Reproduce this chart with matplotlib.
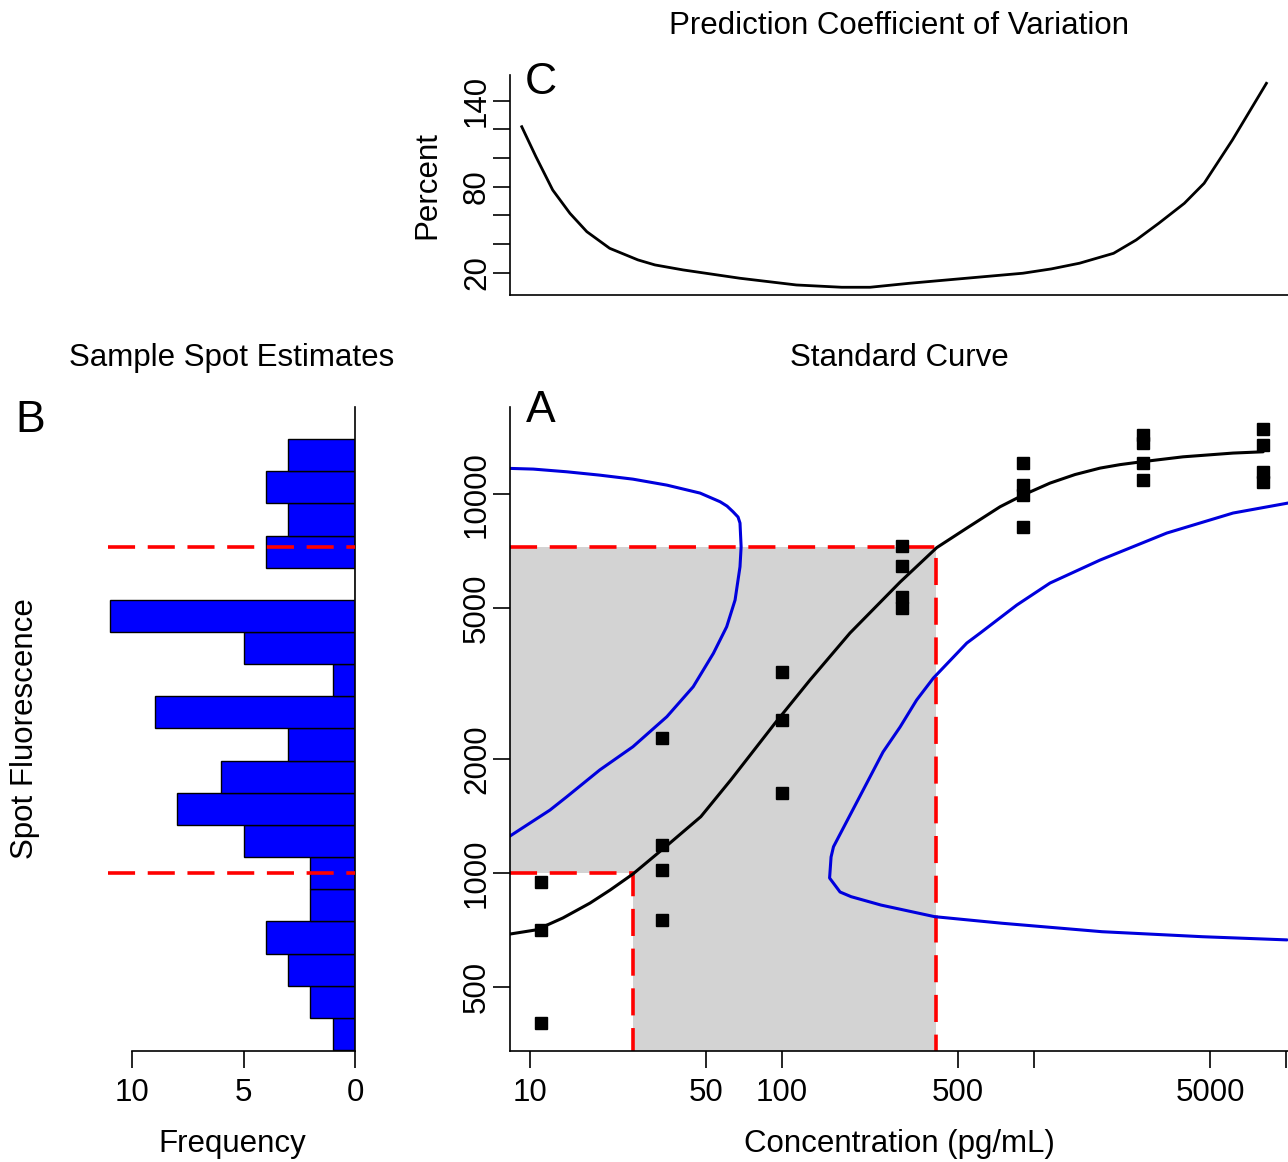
import numpy as np
import matplotlib
matplotlib.use('Agg')
import matplotlib.pyplot as plt

plt.rcParams['font.family'] = ['Liberation Sans', 'DejaVu Sans']
fs = 22.5

# standard points (concentration pg/mL, spot fluorescence)
std_conc = [11.1, 11.1, 11.1, 33.3, 33.3, 33.3, 33.3, 100, 100, 100,
            300, 300, 300, 300, 900, 900, 900, 900,
            2700, 2700, 2700, 2700, 8100, 8100, 8100, 8100]
std_fluor = [947, 708, 402, 2270, 1186, 1018, 752, 3390, 2535, 1626,
             7294, 6457, 5349, 5002, 12070, 10560, 9940, 8185,
             14320, 13640, 12070, 10890, 14850, 13460, 11430, 10750]

# fitted standard curve
fit_conc = [8.31, 10.6, 13.5, 17.3, 20.8, 25.6, 34.5, 47.6, 62.6, 93.9, 129, 186, 294, 411,
            541, 733, 904, 1157, 1454, 1828, 2194, 2675, 3899, 6160, 8110]
fit_fluor = [690, 708, 761, 833, 902, 994, 1173, 1408, 1760, 2488, 3229, 4298, 5857, 7222,
             8133, 9258, 9940, 10690, 11260, 11710, 11960, 12170, 12540, 12830, 12930]

# prediction interval bounds (blue)
lo_conc = [8.27, 10.3, 14.0, 18.9, 25.6, 34.9, 47.3, 56.8, 60.5, 63.9, 66.9, 68.1, 68.8, 68.1,
           65.1, 60.3, 53.4, 44.4, 34.9, 25.6, 18.9, 14.0, 12.0, 8.25]
lo_fluor = [11690, 11640, 11450, 11220, 10950, 10560, 10060, 9544, 9296, 8982, 8697, 8385, 7261, 6431,
            5253, 4466, 3799, 3101, 2585, 2154, 1870, 1590, 1466, 1247]
hi_conc = [10190, 6162, 3362, 1828, 1157, 854, 611, 541, 398.5, 342, 294, 251.6, 217, 188,
           160, 156.5, 154.4, 169.9, 188, 247, 403, 745, 1861, 4663, 10090]
hi_fluor = [9470, 8912, 7891, 6697, 5824, 5095, 4297, 4045, 3269, 2861, 2428, 2086, 1728, 1440,
            1173, 1102, 970, 891, 866, 823, 767, 737, 700, 679, 666]

# limits of quantification
lloq_conc, lloq_fl = 25.6, 1000
uloq_conc, uloq_fl = 410, 7250

# coefficient of variation curve
cv_conc = [9.27, 10.55, 12.3, 14.4, 16.8, 20.7, 26.8, 31.3, 40.5, 68.0, 114, 172.6, 223.5,
           320.8, 538.6, 903.4, 1170, 1516, 2068, 2542, 3127, 3948, 4731, 6124, 8358]
cv_pct = [121.9, 101, 77.7, 61.4, 48.6, 37.0, 28.9, 25.4, 21.9, 16.1, 11.4, 9.8, 9.8,
          12.6, 16.1, 19.6, 22.6, 26.6, 33.5, 42.8, 54.5, 68.4, 82.4, 112.6, 152.2]

# histogram of sample spots (bottom bin to top bin)
hist_counts = [1, 2, 3, 4, 2, 2, 5, 8, 6, 3, 9, 1, 5, 11, 0, 4, 3, 4, 3]
hist_lo, hist_hi = 341, 13970

xlim = (8.33, 10180)
ylim = (339, 16970)

fig = plt.figure(figsize=(12.88, 11.62), dpi=100)
axA = fig.add_axes([0.3960, 0.0955, 0.6040, 0.5542])
axB = fig.add_axes([0.08385, 0.0955, 0.19177, 0.5542])
axC = fig.add_axes([0.3960, 0.74613, 0.6040, 0.18933])

def style(ax):
    for s in ax.spines.values():
        s.set_linewidth(1.2)
    ax.tick_params(direction='out', length=12.5, width=1.2, labelsize=fs)

red = dict(color='#ff0000', lw=2.6, dashes=(7.5, 3.5))
curve = dict(lw=2.2, solid_joinstyle='round', solid_capstyle='round')

# ---- panel A
axA.set_xscale('log')
axA.set_yscale('log')
axA.set_xlim(xlim)
axA.set_ylim(ylim)
x0, y0 = xlim[0], ylim[0]
axA.fill([x0, lloq_conc, lloq_conc, uloq_conc, uloq_conc, x0],
         [lloq_fl, lloq_fl, y0, y0, uloq_fl, uloq_fl], color='#d3d3d3', lw=0, zorder=0)
axA.plot([x0, uloq_conc, uloq_conc], [uloq_fl, uloq_fl, y0], zorder=1, **red)
axA.plot([x0, lloq_conc, lloq_conc], [lloq_fl, lloq_fl, y0], zorder=1, **red)
axA.plot(lo_conc, lo_fluor, color='#0000dd', zorder=2, **curve)
axA.plot(hi_conc, hi_fluor, color='#0000dd', zorder=2, **curve)
axA.plot(fit_conc, fit_fluor, color='black', zorder=3, **curve)
axA.plot(std_conc, std_fluor, 's', color='black', ms=9, zorder=4)
axA.spines['top'].set_visible(False)
axA.spines['right'].set_visible(False)
style(axA)
axA.set_xticks([10, 50, 100, 500, 1000, 5000, 10000])
axA.set_xticklabels(['10', '50', '100', '500', '', '5000', ''])
axA.set_yticks([500, 1000, 2000, 5000, 10000])
axA.set_yticklabels(['500', '1000', '2000', '5000', '10000'])
axA.minorticks_off()
axA.tick_params(axis='x', pad=7)
axA.tick_params(axis='y', pad=0.5, labelrotation=90)
for t in axA.get_yticklabels():
    t.set_va('center')

# ---- panel B
edges = np.geomspace(hist_lo, hist_hi, len(hist_counts) + 1)
axB.set_yscale('log')
axB.set_ylim(ylim)
axB.set_xlim(11.1, 0)
axB.barh(edges[:-1], hist_counts, height=np.diff(edges), align='edge',
         color='#0000ff', edgecolor='black', lw=1.0, zorder=2)
axB.axhline(uloq_fl, zorder=3, **red)
axB.axhline(lloq_fl, zorder=3, **red)
axB.spines['top'].set_visible(False)
axB.spines['left'].set_visible(False)
axB.spines['bottom'].set_bounds(0, 10)
style(axB)
axB.set_yticks([])
axB.minorticks_off()
axB.set_xticks([10, 5, 0])
axB.tick_params(axis='x', pad=7)

# ---- panel C
axC.set_xscale('log')
axC.set_xlim(xlim)
axC.set_ylim(4.4, 158)
axC.plot(cv_conc, cv_pct, color='black', lw=2.0, solid_joinstyle='round')
axC.spines['top'].set_visible(False)
axC.spines['right'].set_visible(False)
style(axC)
axC.set_xticks([])
axC.minorticks_off()
axC.set_yticks([20, 40, 60, 80, 100, 120, 140])
axC.set_yticklabels(['20', '', '', '80', '', '', '140'])
axC.tick_params(axis='y', pad=0.5, labelrotation=90)
for t in axC.get_yticklabels():
    t.set_va('center')

# ---- texts
W, H = 1288.0, 1162.0
def ftext(x, y, s, **kw):
    fig.text(x / W, 1 - y / H, s, ha='center', va='center', **kw)

ftext(899, 26, 'Prediction Coefficient of Variation', fontsize=fs)
ftext(899, 358, 'Standard Curve', fontsize=fs)
ftext(232, 358, 'Sample Spot Estimates', fontsize=fs)
ftext(899, 1144, 'Concentration (pg/mL)', fontsize=fs)
ftext(232, 1144, 'Frequency', fontsize=fs)
ftext(25, 729, 'Spot Fluorescence', fontsize=fs, rotation=90)
ftext(427, 185, 'Percent', fontsize=fs, rotation=90)
ftext(541, 411, 'A', fontsize=32)
ftext(30, 420, 'B', fontsize=32)
ftext(541, 83, 'C', fontsize=32)

fig.savefig('out.png', dpi=100)
